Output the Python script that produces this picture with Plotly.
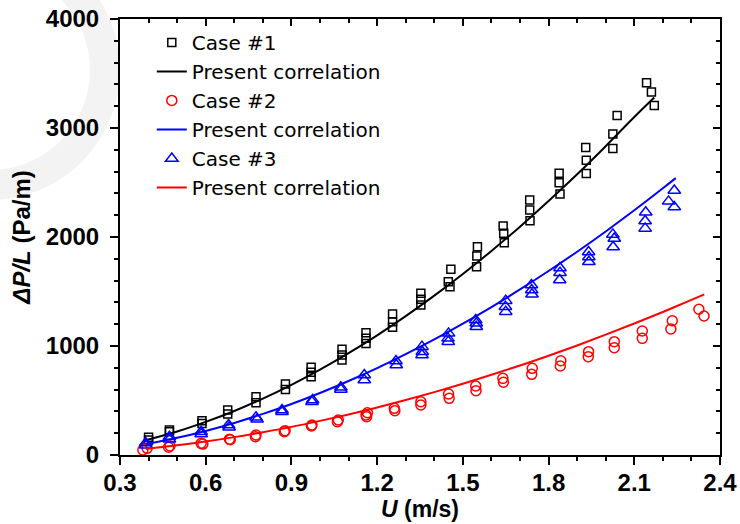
import plotly.graph_objects as go

# ---- data ----
c1_u = [0.40, 0.40, 0.473, 0.473, 0.587, 0.587, 0.677, 0.677, 0.776, 0.776, 0.879, 0.879,
        0.969, 0.969, 0.969, 1.077, 1.077, 1.077, 1.161, 1.161, 1.161, 1.254, 1.254, 1.254,
        1.353, 1.353, 1.353, 1.458, 1.449, 1.455, 1.551, 1.549, 1.548, 1.641, 1.643, 1.645,
        1.734, 1.734, 1.735, 1.837, 1.837, 1.840, 1.930, 1.932, 1.932, 2.040, 2.025, 2.025,
        2.143, 2.160, 2.170]
c1_dp = [162, 138, 229, 214, 315, 290, 413, 376, 535, 480, 651, 602,
         804, 760, 719, 970, 917, 871, 1122, 1070, 1024, 1294, 1223, 1171,
         1483, 1428, 1376, 1703, 1590, 1544, 1911, 1826, 1728, 2101, 2034, 1948,
         2339, 2248, 2150, 2584, 2498, 2394, 2821, 2704, 2583, 3114, 2945, 2812,
         3416, 3330, 3206]

c2_u = [0.38, 0.395, 0.47, 0.475, 0.584, 0.590, 0.683, 0.686, 0.774, 0.776, 0.875, 0.878,
        0.970, 0.972, 1.061, 1.064, 1.161, 1.163, 1.166, 1.260, 1.262, 1.353, 1.353,
        1.450, 1.452, 1.545, 1.546, 1.640, 1.642, 1.743, 1.741, 1.843, 1.841, 1.940, 1.939,
        2.030, 2.030, 2.128, 2.128, 2.233, 2.228, 2.326, 2.344]
c2_dp = [46, 61, 71, 83, 107, 100, 144, 140, 168, 183, 214, 223,
         266, 275, 306, 321, 367, 351, 388, 428, 407, 489, 459,
         560, 520, 633, 590, 703, 667, 795, 740, 865, 817, 948, 902,
         1040, 985, 1138, 1070, 1232, 1156, 1337, 1275]

c3_u = [0.39, 0.39, 0.473, 0.473, 0.584, 0.584, 0.680, 0.682, 0.776, 0.780, 0.867, 0.867,
        0.974, 0.972, 1.073, 1.073, 1.155, 1.155, 1.266, 1.267, 1.357, 1.358, 1.357,
        1.450, 1.448, 1.449, 1.545, 1.547, 1.547, 1.650, 1.649, 1.650, 1.740, 1.741, 1.742,
        1.840, 1.840, 1.839, 1.940, 1.941, 1.941, 2.025, 2.030, 2.026, 2.140, 2.138, 2.138,
        2.240, 2.220, 2.240]
c3_dp = [110, 90, 168, 144, 214, 193, 275, 254, 346, 327, 413, 397,
         505, 489, 621, 602, 734, 688, 862, 826, 994, 948, 917,
         1116, 1070, 1040, 1239, 1208, 1177, 1416, 1361, 1315, 1560, 1514, 1474,
         1715, 1673, 1605, 1862, 1816, 1773, 2024, 1986, 1908, 2227, 2147, 2079,
         2426, 2327, 2275]

# correlation curves
k_u = [0.39, 0.5, 0.6, 0.7, 0.8, 0.9, 1.0, 1.1, 1.2, 1.3, 1.4, 1.5, 1.6, 1.7, 1.8, 1.9, 2.0, 2.1, 2.17]
k_dp = [136, 216, 304, 404, 518, 644, 783, 934, 1098, 1274, 1462, 1661, 1872, 2095, 2330, 2575, 2833, 3101, 3280]

b_u = [0.39, 0.5, 0.6, 0.7, 0.8, 0.9, 1.0, 1.1, 1.2, 1.3, 1.4, 1.5, 1.6, 1.7, 1.8, 1.9, 2.0, 2.1, 2.2, 2.245]
b_dp = [100, 158, 221, 294, 377, 468, 569, 679, 797, 925, 1060, 1205, 1357, 1519, 1688, 1865, 2051, 2245, 2447, 2540]

r_u = [0.39, 0.5, 0.6, 0.7, 0.8, 0.9, 1.0, 1.1, 1.2, 1.3, 1.4, 1.5, 1.6, 1.7, 1.8, 1.9, 2.0, 2.1, 2.2, 2.3, 2.345]
r_dp = [56, 89, 124, 164, 209, 258, 313, 372, 436, 504, 577, 654, 736, 821, 911, 1005, 1104, 1206, 1312, 1423, 1474]

legend_names = ["Case #1", "Present correlation", "Case #2", "Present correlation",
                "Case #3", "Present correlation"]

FONT = "Liberation Sans, Arial, sans-serif"
LEGEND_FONT = "DejaVu Sans, sans-serif"

fig = go.Figure()
fig.add_trace(go.Scatter(x=c1_u, y=c1_dp, mode="markers", name=legend_names[0],
                         marker=dict(symbol="square-open", size=8, color="black",
                                     line=dict(width=1.5, color="black"))))
fig.add_trace(go.Scatter(x=k_u, y=k_dp, mode="lines", name=legend_names[1],
                         line=dict(color="black", width=2, shape="spline")))
fig.add_trace(go.Scatter(x=c2_u, y=c2_dp, mode="markers", name=legend_names[2],
                         marker=dict(symbol="circle-open", size=10, color="red",
                                     line=dict(width=1.5, color="red"))))
fig.add_trace(go.Scatter(x=b_u, y=b_dp, mode="lines", name=legend_names[3],
                         line=dict(color="blue", width=2, shape="spline")))
fig.add_trace(go.Scatter(x=c3_u, y=c3_dp, mode="markers", name=legend_names[4],
                         marker=dict(symbol="triangle-up-open", size=11, color="blue",
                                     line=dict(width=1.5, color="blue"))))
fig.add_trace(go.Scatter(x=r_u, y=r_dp, mode="lines", name=legend_names[5],
                         line=dict(color="red", width=2, shape="spline")))
# mirrored frame axes (ticks inward)
fig.add_trace(go.Scatter(x=[None], y=[None], xaxis="x2", yaxis="y2", showlegend=False,
                         hoverinfo="skip"))

tickfont = dict(family=FONT, size=24, color="black", weight="bold")

fig.update_layout(
    width=740, height=524,
    margin=dict(l=120, r=20, t=19, b=69),
    paper_bgcolor="white", plot_bgcolor="rgba(0,0,0,0)",
    font=dict(family=FONT, color="black"),
    showlegend=True,
    legend=dict(x=0.053, y=0.991, xanchor="left", yanchor="top",
                bgcolor="rgba(0,0,0,0)", font=dict(family=LEGEND_FONT, size=20, color="black"),
                tracegroupgap=0, itemwidth=30),
    xaxis=dict(range=[0.3, 2.4], tick0=0.3, dtick=0.3, ticks="outside", ticklen=8,
               tickwidth=1.5, tickcolor="black", showline=True, linecolor="black",
               linewidth=2, showgrid=False, zeroline=False, tickformat=".1f",
               tickfont=tickfont, ticklabelstandoff=-3, automargin=False,
               ticklabeloverflow="allow",
               minor=dict(dtick=0.1, tick0=0.3, ticks="outside", ticklen=4,
                          tickwidth=1.5, tickcolor="black", showgrid=False),
               title=dict(text="<i>U</i> (m/s)", standoff=0,
                          font=dict(family=FONT, size=23, color="black", weight="bold"))),
    yaxis=dict(range=[0, 4000], tick0=0, dtick=1000, ticks="outside", ticklen=8,
               tickwidth=1.5, tickcolor="black", showline=True, linecolor="black",
               linewidth=2, showgrid=False, zeroline=False,
               tickfont=tickfont, ticklabelstandoff=6, automargin=False,
               ticklabeloverflow="allow",
               minor=dict(dtick=200, tick0=0, ticks="outside", ticklen=4,
                          tickwidth=1.5, tickcolor="black", showgrid=False),
               title=dict(text="<i>ΔP/L</i> (Pa/m)", standoff=8,
                          font=dict(family=FONT, size=24, color="black", weight="bold"))),
    xaxis2=dict(overlaying="x", side="top", anchor="y2", range=[0.3, 2.4], tick0=0.3,
                dtick=0.3, ticks="inside", ticklen=7, tickwidth=1.5, tickcolor="black",
                showticklabels=False, showline=True, linecolor="black", linewidth=2,
                showgrid=False, zeroline=False, automargin=False,
                minor=dict(dtick=0.1, tick0=0.3, ticks="inside", ticklen=4,
                           tickwidth=1.5, tickcolor="black", showgrid=False)),
    yaxis2=dict(overlaying="y", side="right", anchor="x2", range=[0, 4000], tick0=0,
                dtick=1000, ticks="inside", ticklen=7, tickwidth=1.5, tickcolor="black",
                showticklabels=False, showline=True, linecolor="black", linewidth=2,
                showgrid=False, zeroline=False, automargin=False,
                minor=dict(dtick=200, tick0=0, ticks="inside", ticklen=4,
                           tickwidth=1.5, tickcolor="black", showgrid=False)),
    shapes=[
        dict(type="circle", xref="paper", yref="paper", layer="below",
             x0=-0.4333, x1=0.0, y0=0.5849, y1=1.1812,
             fillcolor="#f3f3f3", line=dict(width=0)),
        dict(type="circle", xref="paper", yref="paper", layer="below",
             x0=-0.3833, x1=-0.05, y0=0.6537, y1=1.1124,
             fillcolor="white", line=dict(width=0)),
    ],
)

# remove the browser's default 8px body margin so the figure fills the window exactly
fig.write_html("out.html", config={"displayModeBar": False},
               post_script="document.body.style.margin='0';")
